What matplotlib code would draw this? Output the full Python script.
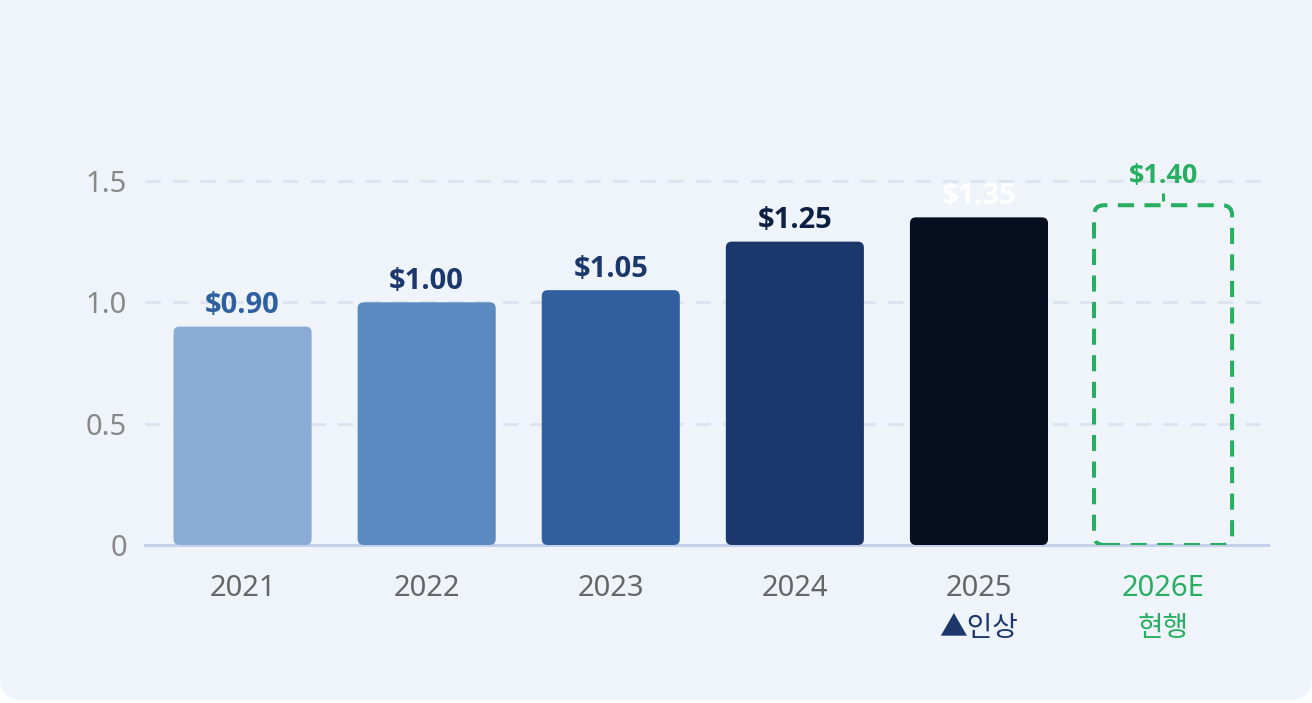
import matplotlib
matplotlib.use("Agg")
import matplotlib.pyplot as plt
from matplotlib.patches import FancyBboxPatch
import matplotlib.transforms as mtransforms

plt.rcParams['font.family'] = ['Noto Sans', 'Noto Sans CJK KR', 'DejaVu Sans']

categories = ["2021", "2022", "2023", "2024", "2025", "2026E"]
values = [0.90, 1.00, 1.05, 1.25, 1.35, 1.40]
value_labels = ["$0.90", "$1.00", "$1.05", "$1.25", "$1.35", "$1.40"]
sub_labels = ["", "", "", "", "▲인상", "현행"]
bar_colors = ["#8AABD6", "#5B8AC0", "#2F5F9F", "#1B376B", "#060F20", None]
label_colors = ["#2F5F9F", "#1B376B", "#1B376B", "#0E1F44", "#FFFFFF", "#27AE60"]
tick_colors = ["#666666", "#666666", "#666666", "#666666", "#666666", "#27AE60"]
sub_colors = ["#1B376B", "#1B376B", "#1B376B", "#1B376B", "#1B376B", "#27AE60"]
yticks = [0, 0.5, 1.0, 1.5]
ytick_labels = ["0", "0.5", "1.0", "1.5"]

W, H = 1312, 703
fig = plt.figure(figsize=(W / 100, H / 100), dpi=100)
fig.patch.set_facecolor("white")

# card background
card = FancyBboxPatch((0, 3), W, H + 60, boxstyle="round,pad=0,rounding_size=22",
                      transform=mtransforms.IdentityTransform(),
                      facecolor="#EFF4FB", edgecolor="none", zorder=-10)
fig.patches.append(card)

ax = fig.add_axes([145 / W, (H - 545) / H, (1268 - 145) / W, 1.6 * 242.7 / H])
ax.set_zorder(5)
ax.set_facecolor("none")
ax.set_xlim(-0.53, 5.57)
ax.set_ylim(0, 1.6)

px_x = 1 / 184.0
px_y = 1 / 242.7
aspect = px_y / px_x
width = 0.75
green = "#27AE60"
bold_font = ['Open Sans', 'Noto Sans CJK KR', 'DejaVu Sans']

for i, (v, c) in enumerate(zip(values, bar_colors)):
    if c is not None:
        p = FancyBboxPatch((i - width / 2, 0), width, v,
                           boxstyle="round,pad=0,rounding_size=%f" % (6 * px_x),
                           mutation_aspect=aspect,
                           facecolor=c, edgecolor="none", zorder=3)
        ax.add_patch(p)
        ax.annotate(value_labels[i], (i, v), xytext=(0, 9.5), textcoords="offset points",
                    ha="center", va="baseline", fontsize=21, fontweight="bold",
                    family=bold_font, color=label_colors[i], zorder=5)
    else:
        p = FancyBboxPatch((i - width / 2, 0), width, v,
                           boxstyle="round,pad=0,rounding_size=%f" % (10 * px_x),
                           mutation_aspect=aspect,
                           facecolor="none", edgecolor=green, linewidth=2.9,
                           linestyle=(0, (4.0, 2.6)), zorder=4)
        ax.add_patch(p)
        ax.plot([i, i], [v + 4 * px_y, v + 12 * px_y], color=green, lw=2.2, zorder=4,
                solid_capstyle="butt")
        ax.annotate(value_labels[i], (i, v), xytext=(0, 16), textcoords="offset points",
                    ha="center", va="baseline", fontsize=19.5, fontweight="bold",
                    family=bold_font, color=label_colors[i], zorder=5)

# grid
for y in yticks[1:]:
    ax.axhline(y, color="#DDE4F0", lw=2.2, linestyle=(0, (5, 4)), zorder=1)

for s in ["top", "right", "left"]:
    ax.spines[s].set_visible(False)
ax.spines["bottom"].set_color("#C5D0EA")
ax.spines["bottom"].set_linewidth(2.2)
ax.spines["bottom"].set_zorder(2)

ax.set_yticks(yticks)
ax.set_yticklabels(ytick_labels, fontsize=21, color="#888888")
ax.tick_params(axis="y", length=0, pad=13)
ax.set_xticks(range(len(categories)))
ax.set_xticklabels(categories, fontsize=21)
for lbl, col in zip(ax.get_xticklabels(), tick_colors):
    lbl.set_color(col)
ax.tick_params(axis="x", length=0, pad=21)

trans = mtransforms.blended_transform_factory(ax.transData, ax.transAxes)
for i, s in enumerate(sub_labels):
    if s:
        ax.text(i, -84 / (1.6 * 242.7), s, transform=trans, ha="center", va="center",
                fontsize=20, color=sub_colors[i])

fig.savefig("out.png", dpi=100, facecolor=fig.get_facecolor())
